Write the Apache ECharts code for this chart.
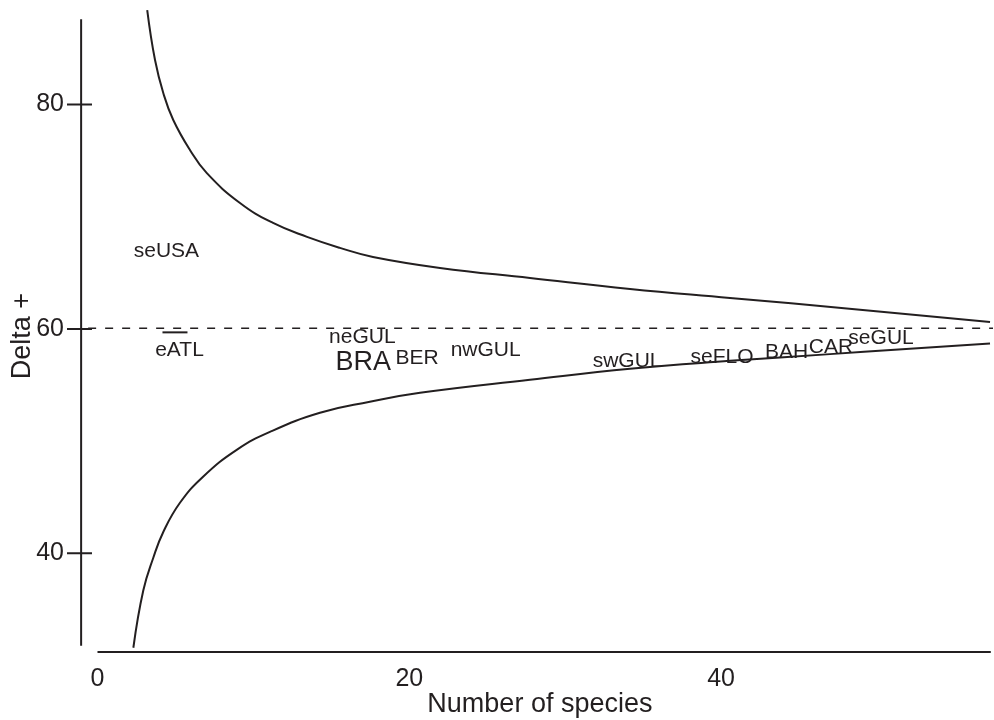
<!DOCTYPE html>
<html>
<head>
<meta charset="utf-8">
<script src="https://cdn.jsdelivr.net/npm/echarts@6/dist/echarts.min.js"></script>
<style>html,body{margin:0;padding:0;background:#fff;}#c{width:994px;height:720px;}</style>
</head>
<body>
<div id="c"></div>
<script>
// ---- data ----
const upperX = [3.19, 3.69, 4.22, 4.86, 5.93, 7.00, 9.14, 11.26, 13.44, 15.55, 17.67, 21.97, 27.74, 34.16, 40.57, 48.40, 57.25];
const upperY = [88.42, 83.96, 81.02, 78.62, 75.95, 73.90, 71.22, 69.44, 68.20, 67.22, 66.41, 65.43, 64.54, 63.56, 62.76, 61.78, 60.62];
const lowerX = [2.30, 2.94, 3.58, 4.22, 5.29, 6.79, 8.93, 11.06, 14.27, 17.47, 20.69, 27.74, 34.16, 40.57, 46.99, 57.25];
const lowerY = [31.58, 36.70, 39.60, 41.90, 44.50, 46.85, 49.22, 50.82, 52.52, 53.50, 54.30, 55.46, 56.45, 57.15, 57.75, 58.70];
const meanDelta = 60.05;
const meanRange = [-0.6, 57.6];

const regionNames = ['seUSA', 'eATL', 'neGUL', 'BRA', 'BER', 'nwGUL', 'swGUL', 'seFLO', 'BAH', 'CAR', 'seGUL'];
const regionSpecies = [4.42, 5.26, 16.99, 17.05, 20.5, 24.9, 33.97, 40.06, 44.2, 47.05, 50.26];
const regionDelta = [66.9, 58.1, 59.24, 57.0, 57.4, 58.1, 57.1, 57.46, 57.9, 58.35, 59.15];
const eatlBar = [4.97, 59.69];

const xTicks = [0, 20, 40];
const yTicks = [40, 60, 80];
const xRange = [-1.956, 57.3];
const yRange = [31.0, 88.6];
const xAxisLineY = 31.2;
const xAxisLineRange = [0, 57.3];
const yAxisLineX = -1.05;
const yAxisLineRange = [31.75, 87.6];
const yTickSpan = [-1.956, -0.353];

// ---- chart ----
const ink = '#231f20';
const font = '"Liberation Sans", Arial, sans-serif';
const chart = echarts.init(document.getElementById('c'), null, {renderer: 'canvas'});

const zip = (xs, ys) => xs.map((x, i) => [x, ys[i]]);
const labelData = regionNames.map((n, i) => ({
  value: [regionSpecies[i], regionDelta[i]],
  name: n,
  label: {fontSize: n === 'BRA' ? 27 : 21}
}));
const tickSegments = [];
yTicks.forEach((v, i) => {
  if (i > 0) tickSegments.push(['-', '-']);
  tickSegments.push([yTickSpan[0], v], [yTickSpan[1], v]);
});

chart.setOption({
  animation: false,
  backgroundColor: '#fff',
  grid: {left: 67, right: 3.2, top: 8, bottom: 65.75, containLabel: false, outerBoundsMode: 'none'},
  xAxis: {
    type: 'value', min: xRange[0], max: xRange[1],
    name: 'Number of species', nameLocation: 'middle', nameGap: 37, nameMoveOverlap: false,
    nameTextStyle: {fontSize: 27, color: ink, fontFamily: font, padding: [0, 0, 0, 22]},
    axisLine: {show: false}, axisTick: {show: false}, splitLine: {show: false},
    axisLabel: {customValues: xTicks, fontSize: 25, color: ink, fontFamily: font, margin: 12}
  },
  yAxis: {
    type: 'value', min: yRange[0], max: yRange[1], position: 'left',
    name: 'Delta +', nameLocation: 'middle', nameGap: 31, nameRotate: 90, nameMoveOverlap: false,
    nameTextStyle: {fontSize: 27, color: ink, fontFamily: font, padding: [0, 10, 0, 0]},
    axisLine: {show: false}, splitLine: {show: false}, axisTick: {show: false},
    axisLabel: {customValues: yTicks, fontSize: 25, color: ink, fontFamily: font, margin: 3}
  },
  series: [
    {type: 'line', data: zip(upperX, upperY), smooth: 0.45, showSymbol: false, clip: false,
     lineStyle: {color: ink, width: 2}},
    {type: 'line', data: zip(lowerX, lowerY), smooth: 0.45, showSymbol: false, clip: false,
     lineStyle: {color: ink, width: 2}},
    {type: 'line', data: [[meanRange[0], meanDelta], [meanRange[1], meanDelta]], showSymbol: false, clip: false,
     lineStyle: {color: ink, width: 1.6, type: [8, 9]}},
    {type: 'line', data: [[xAxisLineRange[0], xAxisLineY], [xAxisLineRange[1], xAxisLineY]], showSymbol: false, clip: false,
     lineStyle: {color: ink, width: 2}},
    {type: 'line', data: [[yAxisLineX, yAxisLineRange[0]], [yAxisLineX, yAxisLineRange[1]]], showSymbol: false, clip: false,
     lineStyle: {color: ink, width: 2}},
    {type: 'line', data: tickSegments, showSymbol: false, clip: false, connectNulls: false,
     lineStyle: {color: ink, width: 2}},
    {type: 'scatter', data: [eatlBar], symbol: 'rect', symbolSize: [25, 2], itemStyle: {color: ink, opacity: 1}, clip: false},
    {type: 'scatter', data: labelData, symbolSize: 0, clip: false, itemStyle: {opacity: 1},
     label: {show: true, position: 'inside', formatter: p => p.name, color: ink, opacity: 1, fontFamily: font,
             align: 'center', verticalAlign: 'middle'}}
  ]
});
</script>
</body>
</html>
